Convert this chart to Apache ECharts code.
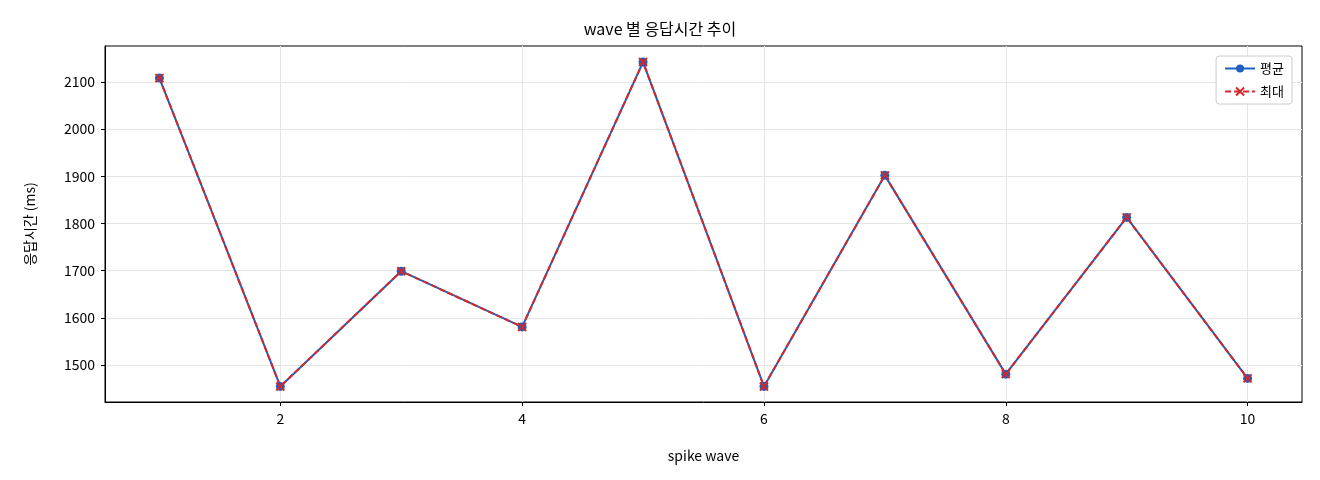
<!DOCTYPE html><html><head><meta charset="utf-8">
<script src="https://cdn.jsdelivr.net/npm/echarts@6/dist/echarts.min.js"></script>
<style>html,body{margin:0;background:#fff}#c{width:1320px;height:480px}</style></head><body><div id="c"></div>
<script>
const waves=[1,2,3,4,5,6,7,8,9,10];
const avgVals=[2108,1455,1699,1581,2142,1455,1902,1481,1813,1472];
const maxVals=[2108,1455,1699,1581,2142,1455,1902,1481,1813,1472];
const xTicks=[2,4,6,8,10];
const yTicks=[1500,1600,1700,1800,1900,2000,2100];
const F='"Noto Sans CJK KR", "DejaVu Sans", sans-serif';
const cross='path://M0,0 L10,10 M10,0 L0,10';
const ch=echarts.init(document.getElementById('c'));
ch.setOption({
 animation:false,
 textStyle:{fontFamily:F},
 title:{text:'wave 별 응답시간 추이',left:'center',top:16,textStyle:{fontFamily:F,fontSize:16,fontWeight:'normal',color:'#000'}},
 grid:{left:105,right:18,top:46,bottom:78,show:true,borderColor:'#000',borderWidth:1},
 legend:{right:28,top:56,orient:'vertical',backgroundColor:'#fff',borderColor:'#ccc',borderWidth:1,borderRadius:3,padding:[6,8],itemGap:10,itemWidth:30,itemHeight:10,textStyle:{fontFamily:F,fontSize:13,color:'#000'}},
 xAxis:{type:'value',min:0.55,max:10.45,name:'spike wave',nameLocation:'middle',nameGap:47,nameTextStyle:{fontFamily:F,fontSize:14,color:'#000'},
  axisLine:{onZero:false,lineStyle:{color:'#000'}},
  axisTick:{customValues:xTicks,length:4,lineStyle:{color:'#000'}},
  axisLabel:{customValues:xTicks,margin:10,fontSize:14,color:'#000',fontFamily:F},
  splitLine:{show:true,lineStyle:{color:'#e5e5e5'}}},
 yAxis:{type:'value',min:1422,max:2176,name:'응답시간 (ms)',nameLocation:'middle',nameGap:68,nameTextStyle:{fontFamily:F,fontSize:14,color:'#000'},
  axisLine:{show:true,lineStyle:{color:'#000'}},
  axisTick:{show:true,length:4,customValues:yTicks,lineStyle:{color:'#000'}},
  axisLabel:{customValues:yTicks,margin:10,formatter:v=>String(v),fontSize:14,color:'#000',fontFamily:F},
  splitLine:{show:true,lineStyle:{color:'#e5e5e5'}}},
 series:[
  {name:'평균',type:'line',data:waves.map((w,i)=>[w,avgVals[i]]),symbol:'circle',symbolSize:9,lineStyle:{color:'#1f5fbf',width:2},itemStyle:{color:'#1f5fbf'}},
  {name:'최대',type:'line',data:waves.map((w,i)=>[w,maxVals[i]]),symbol:cross,symbolSize:8,lineStyle:{color:'#d62728',width:2,type:[6,3]},itemStyle:{color:'#d62728',borderColor:'#d62728',borderWidth:2}}
 ]
});
</script></body></html>
